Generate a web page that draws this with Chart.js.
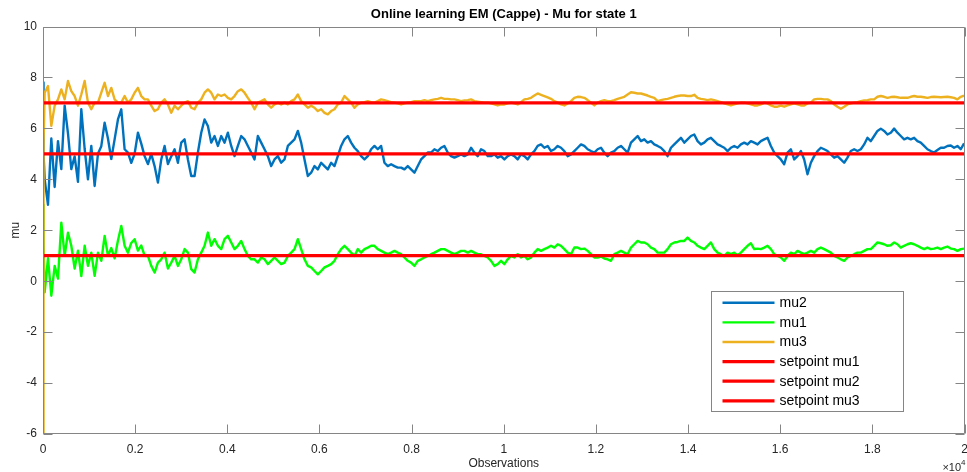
<!DOCTYPE html>
<html>
<head>
<meta charset="utf-8">
<script src="https://cdn.jsdelivr.net/npm/chart.js@4.4.1/dist/chart.umd.min.js"></script>
<style>
html,body{margin:0;padding:0;background:#ffffff;}
#wrap{width:967px;height:472px;position:relative;}
</style>
</head>
<body>
<div id="wrap"><canvas id="c" width="967" height="472"></canvas></div>
<script>
// ---------- data ----------
const chartTitle = 'Online learning EM (Cappe) - Mu for state 1';
const xAxisTitle = 'Observations';
const yAxisTitle = 'mu';
const xExponentText = '\u00d710';
const xExponent = '4';

const xTickValues = [0, 2000, 4000, 6000, 8000, 10000, 12000, 14000, 16000, 18000, 20000];
const xTickLabels = ['0', '0.2', '0.4', '0.6', '0.8', '1', '1.2', '1.4', '1.6', '1.8', '2'];
const yTickValues = [-6, -4, -2, 0, 2, 4, 6, 8, 10];
const yTickLabels = ['-6', '-4', '-2', '0', '2', '4', '6', '8', '10'];

const seriesNames = ['mu2', 'mu1', 'mu3'];
const setpointNames = ['setpoint mu1', 'setpoint mu2', 'setpoint mu3'];
const setpointValues = [1, 5, 7];

// first two observations (initialisation transient)
const startObs = [0, 12];
const mu2Start = [7.8, 5.0];
const mu1Start = [3.0, 1.5];
const mu3Start = [-6.0, 5.5];

// then one reading every 72.3 observations, starting at observation 36
const sampleObs0 = 36.1;
const sampleStep = 72.3;

const mu2 = [
 4.00, 3.00, 5.60, 3.70, 5.50, 4.40, 6.89, 5.80, 4.40, 4.90,
 3.90, 6.75, 5.20, 4.00, 5.31, 3.74, 5.00, 5.30, 6.22, 5.60,
 4.80, 5.57, 6.35, 6.75, 5.18, 5.05, 4.65, 5.00, 5.83, 5.40,
 4.91, 4.60, 5.00, 4.52, 3.87, 4.78, 5.31, 4.60, 4.90, 5.18,
 4.65, 5.44, 5.57, 4.78, 4.13,
 4.13, 5.05, 5.83, 6.35, 6.09, 5.44, 5.70, 5.31, 5.70, 5.44,
 5.83, 5.31, 4.91, 5.31, 5.70, 5.57, 5.31, 5.05, 4.78, 5.70,
 5.44, 5.18, 4.91, 4.52, 4.78, 4.91, 4.65, 4.78, 5.31, 5.44,
 5.57, 5.90, 5.44, 4.78, 4.13, 4.26, 4.52, 4.39, 4.65, 4.52,
 4.39, 4.65, 4.52, 4.91, 5.31, 5.57,
 5.70, 5.44, 5.24, 5.11, 4.91, 4.78, 4.91, 5.18, 5.31, 5.18,
 5.31, 4.65, 4.52, 4.59, 4.52, 4.46, 4.46, 4.39, 4.52, 4.39,
 4.26, 4.52, 4.78, 4.91, 5.05, 5.05, 5.18, 5.11, 5.24, 5.31,
 5.05, 4.91, 4.85, 4.91, 4.98, 4.91, 4.98, 5.24, 5.05, 4.91,
 5.18, 5.11, 4.91, 4.91, 4.98, 4.85, 4.91,
 4.78, 4.91, 4.98, 4.91, 4.78, 4.98, 4.91, 4.78, 4.98, 5.11,
 5.31, 5.37, 5.24, 5.31, 5.11, 5.18, 5.31, 5.24, 5.11, 4.91,
 4.98, 5.11, 5.24, 5.37, 5.31, 5.18, 5.11, 5.05, 5.18, 5.24,
 5.05, 4.91, 5.05, 5.11, 5.24, 5.31, 5.18, 5.05, 5.44, 5.57,
 5.70, 5.50, 5.57, 5.44, 5.50, 5.37,
 5.31, 5.24, 5.11, 4.91, 5.24, 5.37, 5.50, 5.63, 5.44, 5.57,
 5.70, 5.76, 5.50, 5.37, 5.44, 5.57, 5.63, 5.50, 5.37, 5.31,
 5.24, 5.11, 5.24, 5.31, 5.24, 5.37, 5.44, 5.37, 5.50, 5.44,
 5.37, 5.50, 5.57, 5.63, 5.31, 5.05, 4.91, 4.78, 4.59, 5.05,
 5.18, 4.78, 4.91, 5.11, 4.78, 4.20, 4.65,
 4.91, 5.11, 5.24, 5.18, 5.11, 4.98, 4.85, 4.91, 4.78, 4.65,
 4.85, 5.11, 5.18, 5.11, 5.18, 5.37, 5.63, 5.50, 5.70, 5.90,
 5.99, 5.90, 5.76, 5.83, 5.99, 5.83, 5.70, 5.57, 5.63, 5.57,
 5.63, 5.50, 5.44, 5.31, 5.18, 5.11, 5.05, 5.15, 5.24, 5.24,
 5.31, 5.33, 5.24, 5.31, 5.18, 5.41
];

const mu1 = [
 -0.44, 0.90, -0.57, 0.60, 0.10, 2.30, 1.00, 1.90, 1.39, 0.50,
 1.20, 0.20, 1.39, 0.60, 1.12, 0.21, 1.12, 0.80, 1.78, 1.00,
 1.30, 0.90, 1.60, 2.17, 1.39, 1.12, 1.50, 1.65, 1.20, 1.40,
 1.00, 0.99, 0.60, 0.34, 0.73, 0.86, 1.12, 0.50, 0.73, 0.99,
 0.60, 0.86, 1.26, 1.12, 0.47,
 0.34, 0.86, 1.12, 1.39, 1.91, 1.39, 1.65, 1.39, 1.26, 1.65,
 1.78, 1.52, 1.26, 1.39, 1.58, 1.26, 0.99, 0.86, 0.86, 0.73,
 0.93, 0.86, 0.67, 0.80, 0.93, 0.80, 0.67, 0.73, 0.99, 1.12,
 1.26, 1.65, 1.26, 0.86, 0.60, 0.54, 0.40, 0.27, 0.40, 0.54,
 0.60, 0.67, 0.80, 1.06, 1.26, 1.39,
 1.26, 1.12, 0.99, 1.26, 1.12, 1.26, 1.32, 1.39, 1.39, 1.26,
 1.19, 1.12, 1.06, 1.12, 1.19, 1.12, 1.06, 0.93, 0.80, 0.73,
 0.60, 0.80, 0.86, 0.93, 0.99, 1.06, 1.12, 1.19, 1.26, 1.26,
 1.19, 1.12, 1.06, 1.12, 1.19, 1.19, 1.12, 1.19, 1.12, 1.06,
 1.06, 0.99, 0.93, 0.80, 0.60, 0.67, 0.80,
 0.67, 0.86, 0.99, 0.93, 1.06, 0.93, 0.99, 0.86, 0.93, 1.12,
 1.26, 1.19, 1.26, 1.32, 1.39, 1.32, 1.45, 1.39, 1.26, 1.12,
 1.06, 1.32, 1.32, 1.26, 1.28, 1.19, 1.06, 0.93, 0.93, 0.97,
 0.89, 0.86, 0.80, 1.06, 1.12, 1.19, 1.12, 1.06, 1.32, 1.45,
 1.58, 1.52, 1.52, 1.45, 1.32, 1.26,
 1.12, 1.12, 1.12, 1.26, 1.45, 1.52, 1.54, 1.58, 1.58, 1.71,
 1.58, 1.52, 1.39, 1.32, 1.26, 1.39, 1.52, 1.26, 1.12, 1.06,
 0.99, 1.12, 1.06, 1.12, 1.02, 1.12, 1.26, 1.39, 1.49, 1.26,
 1.28, 1.26, 1.32, 1.39, 1.26, 1.06, 0.99, 0.93, 0.80, 0.99,
 1.12, 1.06, 1.19, 1.12, 1.06, 1.12, 1.19,
 1.12, 1.26, 1.32, 1.26, 1.19, 1.12, 0.99, 0.93, 0.86, 0.80,
 0.93, 0.99, 1.06, 1.12, 1.12, 1.19, 1.26, 1.26, 1.39, 1.52,
 1.49, 1.45, 1.39, 1.41, 1.52, 1.45, 1.32, 1.39, 1.45, 1.49,
 1.45, 1.39, 1.32, 1.26, 1.32, 1.26, 1.28, 1.32, 1.26, 1.32,
 1.36, 1.28, 1.26, 1.19, 1.26, 1.28
];

const mu3 = [
 7.40, 7.66, 6.10, 6.89, 7.14, 7.53, 7.14, 7.86, 7.46, 7.27,
 6.89, 7.33, 7.86, 7.01, 6.75, 7.01, 7.01, 7.40, 7.79, 7.27,
 7.59, 7.14, 7.01, 7.01, 7.27, 7.01, 7.14, 7.40, 7.59, 7.27,
 7.14, 7.14, 6.89, 6.68, 6.75, 7.01, 7.14, 6.94, 6.61, 6.89,
 6.75, 6.89, 7.01, 7.07, 6.81,
 6.75, 7.01, 7.14, 7.40, 7.53, 7.40, 7.14, 7.33, 7.27, 7.33,
 7.20, 7.14, 7.27, 7.46, 7.53, 7.40, 7.20, 7.01, 6.75, 7.01,
 7.07, 7.14, 6.94, 6.81, 6.94, 7.01, 6.94, 7.01, 6.94, 7.07,
 7.14, 7.33, 7.07, 6.94, 6.81, 6.89, 6.81, 6.68, 6.75, 6.61,
 6.55, 6.68, 6.75, 6.94, 7.01, 7.27,
 7.14, 7.01, 6.81, 6.94, 7.01, 7.03, 7.07, 7.03, 7.01, 7.07,
 7.14, 7.11, 7.07, 7.03, 7.01, 6.98, 6.94, 6.98, 7.01, 7.03,
 7.07, 7.07, 7.07, 7.11, 7.07, 7.11, 7.14, 7.16, 7.20, 7.16,
 7.16, 7.14, 7.14, 7.11, 7.07, 7.10, 7.11, 7.14, 7.07, 7.05,
 7.03, 7.01, 7.01, 6.98, 6.94, 6.90, 6.94,
 6.94, 6.98, 7.01, 6.98, 6.94, 7.03, 7.14, 7.16, 7.20, 7.29,
 7.37, 7.32, 7.27, 7.22, 7.16, 7.07, 7.01, 6.94, 6.90, 6.98,
 7.07, 7.20, 7.24, 7.23, 7.20, 7.11, 7.01, 6.90, 7.01, 7.07,
 7.11, 7.07, 7.07, 7.11, 7.16, 7.20, 7.24, 7.33, 7.42, 7.40,
 7.37, 7.37, 7.33, 7.29, 7.24, 7.20,
 7.07, 7.11, 7.14, 7.16, 7.20, 7.24, 7.27, 7.29, 7.29, 7.27,
 7.27, 7.32, 7.20, 7.16, 7.14, 7.11, 7.14, 7.11, 7.07, 7.03,
 6.98, 6.94, 6.90, 6.94, 6.98, 7.01, 7.01, 6.98, 6.94, 6.90,
 6.90, 6.94, 7.01, 6.98, 6.90, 6.85, 6.85, 6.89, 6.85, 6.90,
 6.94, 6.98, 6.94, 6.90, 6.90, 6.98, 7.01,
 7.14, 7.16, 7.16, 7.14, 7.14, 7.07, 6.94, 6.85, 6.77, 6.85,
 6.94, 6.98, 7.01, 7.03, 7.07, 7.10, 7.11, 7.14, 7.14, 7.24,
 7.27, 7.24, 7.20, 7.23, 7.24, 7.22, 7.20, 7.20, 7.20, 7.24,
 7.27, 7.24, 7.24, 7.22, 7.20, 7.23, 7.24, 7.23, 7.22, 7.23,
 7.24, 7.22, 7.20, 7.14, 7.24, 7.29
];

// ---------- styling ----------
const FONT = "'Liberation Sans', Arial, Helvetica, sans-serif";
const AXIS_COLOR = '#262626';
const BOX_COLOR = '#858585';
const colors = { mu2: '#0072BD', mu1: '#00FF00', mu3: '#EDB120', setpoint: '#FF0000' };

function toPoints(startVals, vals) {
  const pts = startObs.map((o, i) => ({ x: o, y: startVals[i] }));
  vals.forEach((v, i) => pts.push({ x: sampleObs0 + i * sampleStep, y: v }));
  return pts;
}
function setpointLine(v) {
  return [{ x: xTickValues[0], y: v }, { x: xTickValues[xTickValues.length - 1], y: v }];
}

const datasets = [
  { label: seriesNames[0], data: toPoints(mu2Start, mu2), borderColor: colors.mu2, borderWidth: 2.4, order: 3 },
  { label: seriesNames[1], data: toPoints(mu1Start, mu1), borderColor: colors.mu1, borderWidth: 2.4, order: 2 },
  { label: seriesNames[2], data: toPoints(mu3Start, mu3), borderColor: colors.mu3, borderWidth: 2.4, order: 1 },
  { label: setpointNames[0], data: setpointLine(setpointValues[0]), borderColor: colors.setpoint, borderWidth: 3.2, order: 0 },
  { label: setpointNames[1], data: setpointLine(setpointValues[1]), borderColor: colors.setpoint, borderWidth: 3.2, order: 0 },
  { label: setpointNames[2], data: setpointLine(setpointValues[2]), borderColor: colors.setpoint, borderWidth: 3.2, order: 0 }
];
datasets.forEach(d => { d.pointRadius = 0; d.pointHoverRadius = 0; d.tension = 0; d.fill = false; d.borderJoinStyle = 'round'; d.backgroundColor = d.borderColor; });

// axes box + inward ticks (MATLAB style)
const axesBox = {
  id: 'axesBox',
  afterDatasetsDraw(chart) {
    const { ctx, chartArea: a, scales } = chart;
    const xs = scales.x, ys = scales.y;
    const L = Math.round(a.left) + 0.5, R = Math.round(a.right) - 0.5;
    const T = Math.round(a.top) + 0.5, B = Math.round(a.bottom) - 0.5;
    ctx.save();
    ctx.strokeStyle = BOX_COLOR;
    ctx.lineWidth = 1;
    ctx.beginPath();
    ctx.rect(L, T, R - L, B - T);
    const tl = 9;
    xTickValues.forEach(v => {
      const p = Math.round(xs.getPixelForValue(v)) + 0.5;
      ctx.moveTo(p, B); ctx.lineTo(p, B - tl);
      ctx.moveTo(p, T); ctx.lineTo(p, T + tl);
    });
    yTickValues.forEach(v => {
      const p = Math.round(ys.getPixelForValue(v)) + 0.5;
      ctx.moveTo(L, p); ctx.lineTo(L + tl, p);
      ctx.moveTo(R, p); ctx.lineTo(R - tl, p);
    });
    ctx.stroke();
    ctx.restore();
  },
  afterDraw(chart) {
    const { ctx, chartArea: a } = chart;
    ctx.save();
    // title
    ctx.fillStyle = '#000000';
    ctx.font = 'bold 13px ' + FONT;
    ctx.textAlign = 'center';
    ctx.textBaseline = 'middle';
    ctx.fillText(chartTitle, (a.left + a.right) / 2, 14);
    // x exponent
    ctx.fillStyle = AXIS_COLOR;
    ctx.font = '11px ' + FONT;
    ctx.textAlign = 'left';
    ctx.textBaseline = 'alphabetic';
    const w = ctx.measureText(xExponentText).width;
    ctx.font = '8px ' + FONT;
    const w4 = ctx.measureText(xExponent).width;
    const x0 = a.right - w - w4 + 1;
    ctx.font = '11px ' + FONT;
    ctx.fillText(xExponentText, x0, 471);
    ctx.font = '8px ' + FONT;
    ctx.fillText(xExponent, x0 + w, 465);
    ctx.restore();
  }
};

// legend box inside the axes
const boxLegend = {
  id: 'boxLegend',
  afterDraw(chart) {
    const { ctx, chartArea: a } = chart;
    const bx = Math.round(a.right) - 254 + 0.5, by = Math.round(a.bottom) - 143 + 0.5;
    const bw = 192, bh = 120;
    ctx.save();
    ctx.fillStyle = '#ffffff';
    ctx.fillRect(bx, by, bw, bh);
    ctx.strokeStyle = BOX_COLOR;
    ctx.lineWidth = 1;
    ctx.strokeRect(bx, by, bw, bh);
    ctx.font = '14px ' + FONT;
    ctx.textAlign = 'left';
    ctx.textBaseline = 'middle';
    chart.data.datasets.forEach((d, i) => {
      const yy = by + 11.3 + i * 19.6;
      ctx.strokeStyle = d.borderColor;
      ctx.lineWidth = d.borderWidth;
      ctx.beginPath();
      ctx.moveTo(bx + 11, yy);
      ctx.lineTo(bx + 63, yy);
      ctx.stroke();
      ctx.fillStyle = '#000000';
      ctx.fillText(d.label, bx + 68, yy + 0.5);
    });
    ctx.restore();
  }
};

new Chart(document.getElementById('c'), {
  type: 'line',
  data: { datasets },
  options: {
    responsive: false,
    animation: false,
    devicePixelRatio: 1,
    events: [],
    layout: { padding: { left: 0, right: 2.5, top: 26.5, bottom: 0 } },
    plugins: { legend: { display: false }, tooltip: { enabled: false }, title: { display: false } },
    scales: {
      x: {
        type: 'linear',
        min: xTickValues[0],
        max: xTickValues[xTickValues.length - 1],
        afterBuildTicks: s => { s.ticks = xTickValues.map(v => ({ value: v })); },
        afterFit: s => { s.height = 38; s.paddingLeft = 0; s.paddingRight = 0; },
        grid: { display: false, drawTicks: false },
        border: { display: false },
        ticks: {
          autoSkip: false, maxRotation: 0, padding: 8,
          color: AXIS_COLOR, font: { family: FONT, size: 12 },
          callback: (v, i) => xTickLabels[i]
        },
        title: { display: true, text: xAxisTitle, color: AXIS_COLOR, font: { family: FONT, size: 12 }, padding: { top: 0, bottom: 1 } }
      },
      y: {
        type: 'linear',
        min: yTickValues[0],
        max: yTickValues[yTickValues.length - 1],
        afterBuildTicks: s => { s.ticks = yTickValues.map(v => ({ value: v })); },
        afterFit: s => { s.width = 43; s.paddingTop = 0; s.paddingBottom = 0; },
        grid: { display: false, drawTicks: false },
        border: { display: false },
        ticks: {
          autoSkip: false, padding: 6,
          color: AXIS_COLOR, font: { family: FONT, size: 12 },
          callback: (v, i) => yTickLabels[i]
        },
        title: { display: true, text: yAxisTitle, color: AXIS_COLOR, font: { family: FONT, size: 12 }, padding: { top: 8, bottom: 0 } }
      }
    }
  },
  plugins: [axesBox, boxLegend]
});
</script>
</body>
</html>
